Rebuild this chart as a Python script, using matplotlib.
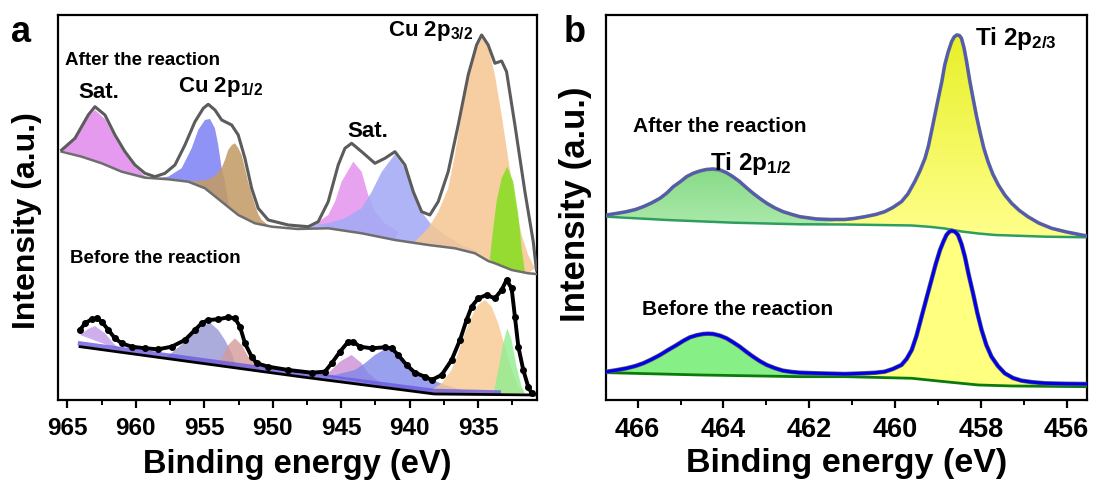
import numpy as np
import matplotlib
matplotlib.use("Agg")
import matplotlib.pyplot as plt
from matplotlib.ticker import MultipleLocator
from matplotlib.patches import Polygon

plt.rcParams['font.family'] = ['Liberation Sans', 'DejaVu Sans']
plt.rcParams['font.weight'] = 'bold'
plt.rcParams['axes.labelweight'] = 'bold'
plt.rcParams['mathtext.fontset'] = 'custom'
plt.rcParams['mathtext.default'] = 'bf'
plt.rcParams['mathtext.bf'] = 'Liberation Sans:bold'
plt.rcParams['mathtext.rm'] = 'Liberation Sans:bold'

# === Cu 2p, after the reaction ===
cu_env_after_e = [965.41, 964.44, 963.47, 962.98, 962.25, 961.52, 960.79, 960.06, 959.33, 958.6,
                  957.87, 957.14, 956.41, 955.68, 955.07, 954.71, 954.22, 953.73, 953.0, 952.52,
                  952.03, 951.54, 951.06, 950.33, 948.87, 947.41, 946.68, 945.95, 945.22, 944.73,
                  944.24, 943.51, 942.54, 941.81, 941.08, 940.35, 939.74, 939.13, 938.53, 937.92,
                  937.19, 936.46, 935.73, 935.12, 934.75, 934.27, 933.78, 933.29, 932.93, 932.32,
                  931.59, 930.98, 930.75]
cu_env_after_i = [250, 261.7, 285, 293.3, 285, 265, 248.3, 235, 226.7, 223.3,
                  226.7, 235, 255, 278.3, 291.7, 295.7, 290, 280, 275, 265,
                  241.7, 211.7, 191.7, 180, 175, 173.3, 178.3, 198.3, 235, 251.7,
                  256.7, 248.3, 236.7, 241.7, 248.3, 235, 208.3, 188.3, 185, 198.3,
                  228.3, 275, 325, 355, 365, 355, 336.7, 339, 328.3, 275,
                  208.3, 158.3, 130]
cu_bg_after_e = [965.41, 963.95, 962.49, 961.03, 959.33, 957.63, 956.17, 954.95, 953.73, 952.52,
                 951.3, 950.08, 948.2, 945.95, 943.51, 941.08, 938.65, 936.7, 935.24, 934.27,
                 933.78, 932.56, 931.35, 930.75]
cu_bg_after_i = [248.3, 243.3, 236.7, 228.3, 222.3, 220.7, 218.3, 211.7, 198.3, 185,
                 176.7, 173.3, 171, 171.7, 166.7, 160, 155, 151.7, 146.7, 139,
                 136.7, 130, 126.7, 126]

sat1_a_e = [965.41, 964.44, 963.47, 962.98, 962.25, 961.52, 960.79, 960.06, 959.33, 958.9]
sat1_a_i = [250, 260, 283, 290, 281, 262, 246, 233, 224, 222]
p12a_a_e = [958.6, 957.63, 956.65, 955.92, 955.44, 954.95, 954.58, 954.22, 953.98, 953.73, 953.49, 953.2]
p12a_a_i = [221.5, 223.3, 231.7, 251.7, 270, 280, 281, 271.7, 255, 231.7, 218, 195]
p12b_a_e = [956.2, 955.5, 954.8, 954.2, 953.73, 953.49, 953.25, 952.98, 952.76, 952.52,
            952.27, 952.03, 951.79, 951.54, 951.3, 951.06, 950.81, 950.3]
p12b_a_i = [218.3, 219, 220, 224, 232, 240, 250, 255, 256.7, 252,
            245, 232, 218, 206, 195, 186, 180, 174.5]
sat2_a_e = [946.92, 945.95, 945.46, 944.97, 944.12, 943.51, 943.03, 942.54, 941.81, 940.84]
sat2_a_i = [175.7, 185, 198, 218.3, 238.3, 228.3, 205, 188, 176.7, 168]
sat3_a_e = [948.38, 947.17, 945.95, 944.73, 943.51, 942.78, 942.05, 941.08, 940.35, 939.74,
            939.13, 938.4, 937.43, 936.21, 935.0]
sat3_a_i = [171.5, 175, 176.7, 181.7, 191.7, 208, 228, 245.7, 231.7, 208,
            188, 175, 165, 155, 148.3]
p32a_a_e = [939.62, 938.65, 937.92, 937.19, 936.7, 936.21, 935.73, 935.24, 934.75, 934.27,
            933.78, 933.29, 932.81, 932.32, 931.83, 931.35, 930.86]
p32a_a_i = [158.3, 171.7, 188, 211.7, 245, 285, 321.7, 348.3, 361.7, 353.3,
            325, 285, 241.7, 198.3, 165, 145, 131.7]
p32b_a_e = [934.15, 933.9, 933.66, 933.29, 932.88, 932.44, 932.07, 931.83, 931.59]
p32b_a_i = [141, 171.7, 198.3, 221.7, 233.3, 218.3, 185, 151.7, 128.3]

# === Cu 2p, before the reaction ===
cu_env_before_e = [964.07, 963.71, 963.22, 962.85, 962.49, 962.0, 961.52, 961.03, 960.3, 959.33,
                   958.36, 957.38, 956.41, 955.68, 955.19, 954.71, 953.98, 953.25, 952.76, 952.39,
                   952.03, 951.54, 951.18, 950.33, 948.87, 947.16, 946.19, 945.7, 945.09, 944.49,
                   944.12, 943.64, 942.78, 941.81, 941.32, 940.84, 940.23, 939.62, 938.89, 938.4,
                   937.67, 936.94, 936.33, 935.85, 935.48, 935.0, 934.39, 933.78, 933.29, 932.93,
                   932.56, 932.32, 932.07, 931.71, 931.35, 931.1]
cu_env_before_i = [70, 76.7, 80.7, 81.7, 78.3, 70, 61.7, 56.7, 53.3, 51.7,
                   50.7, 53.3, 60, 70, 76.7, 80, 80.7, 82.7, 81.7, 73.3,
                   56.7, 43.3, 36.7, 33.3, 30, 27.3, 28.3, 36.7, 48.3, 58.3,
                   58.3, 53.3, 51.7, 52.7, 51.7, 45, 35, 27.3, 23.3, 20,
                   25, 40, 60, 80, 93.3, 101.7, 105, 101.7, 110, 120,
                   111.7, 83.3, 53.3, 30, 13.3, 6.7]
cu_bg_before_e = [964.07, 948.0, 938.2, 930.9]
cu_bg_before_i = [53.3, 23.3, 6.0, 5.0]
cu_band_before_e = [964.07, 948.0, 938.2, 933.5]
cu_band_before_i = [56.5, 26.5, 9.0, 7.5]

sat1_b_e = [964.07, 963.47, 962.98, 962.25, 961.64, 961.03]
sat1_b_i = [65, 71, 74, 66.7, 56.7, 49.5]
p12a_b_e = [957.9, 957.38, 956.41, 955.68, 955.19, 954.58, 953.98, 953.49, 953.0, 952.64]
p12a_b_i = [42, 47, 58.3, 68.3, 73.3, 77.3, 70, 60, 46.7, 33]
p12b_b_e = [953.98, 953.73, 953.25, 952.76, 952.27, 951.79, 951.3, 950.9]
p12b_b_i = [36, 41.7, 55, 61.7, 55, 43.3, 36.7, 30]
sat2_b_e = [946.19, 945.7, 945.09, 944.24, 943.51, 943.03, 942.54, 942.0]
sat2_b_i = [24, 30, 38.3, 45, 36.7, 26.7, 21.7, 15]
sat3_b_e = [947.16, 945.46, 944.0, 943.27, 942.54, 941.69, 941.08, 940.35, 939.62, 938.65,
            937.43, 936.2, 935.2]
sat3_b_i = [26, 25, 30, 36.7, 45, 51.7, 48.3, 36.7, 28.3, 21.7,
            15, 10, 7]
p32a_b_e = [938.4, 937.67, 936.94, 936.46, 935.97, 935.48, 935.0, 934.51, 934.02, 933.54,
            933.05, 932.56, 932.07, 931.59]
p32a_b_i = [10, 16.7, 30, 46.7, 66.7, 83.3, 95, 100, 93.3, 76.7,
            53.3, 30, 13.3, 6.7]
p32b_b_e = [933.9, 933.78, 933.54, 933.17, 932.88, 932.56, 932.2, 931.83, 931.59]
p32b_b_i = [6.7, 13.3, 30, 56.7, 71.7, 60, 33.3, 13.3, 6.7]

# === Ti 2p ===
ti_env_after_e = [466.72, 466.5, 466.26, 466.05, 465.87, 465.68, 465.48, 465.32, 465.17, 465.0,
                  464.86, 464.7, 464.55, 464.4, 464.24, 464.08, 463.93, 463.78, 463.62, 463.47,
                  463.31, 463.15, 462.99, 462.8, 462.61, 462.4, 462.22, 462.0, 461.83, 461.5,
                  461.17, 460.95, 460.7, 460.45, 460.24, 460.05, 459.85, 459.7, 459.54, 459.42,
                  459.3, 459.22, 459.15, 459.07, 458.99, 458.91, 458.84, 458.76, 458.68, 458.62,
                  458.56, 458.5, 458.45, 458.39, 458.33, 458.26, 458.18, 458.1, 458.02, 457.93,
                  457.83, 457.72, 457.59, 457.44, 457.28, 457.1, 456.9, 456.65, 456.35, 456.0,
                  455.53]
ti_env_after_i = [185, 186.5, 188.3, 190.5, 193.3, 197, 201.7, 207, 213.3, 218.5,
                  223.3, 226.8, 229, 230.5, 231, 230, 227.3, 223.3, 218.3, 212.5,
                  206.7, 201.5, 196.7, 192, 188.3, 185.5, 183.3, 182, 181, 180.5,
                  180.5, 181.5, 183.3, 185.5, 188.3, 192.5, 198.3, 206, 218.3, 229,
                  241.7, 254, 268.3, 285, 301.7, 318, 335, 348, 358.3, 363,
                  365, 364.5, 361.7, 352, 338.3, 320, 301.7, 284, 268.3, 252,
                  238.3, 226, 215, 205, 196.7, 189.5, 183.3, 177, 171.7, 168,
                  164]
ti_bg_after_e = [466.72, 465.32, 463.77, 462.22, 461.17, 459.61, 459.15, 458.84, 458.45, 458.06,
                 457.67, 456.5, 455.53]
ti_bg_after_i = [183.3, 180, 177.3, 175.7, 175.5, 174.5, 173, 171.5, 168.5, 166.5,
                 165, 163.3, 162.7]

ti_env_before_e = [466.72, 466.5, 466.26, 466.05, 465.87, 465.68, 465.48, 465.29, 465.09, 464.93,
                   464.78, 464.62, 464.47, 464.35, 464.24, 464.08, 463.93, 463.78, 463.62, 463.47,
                   463.31, 463.15, 462.99, 462.8, 462.61, 462.4, 462.22, 461.83, 461.17, 460.7,
                   460.45, 460.24, 460.05, 459.85, 459.73, 459.61, 459.5, 459.38, 459.27, 459.15,
                   459.05, 458.95, 458.87, 458.8, 458.74, 458.68, 458.6, 458.53, 458.45, 458.37,
                   458.28, 458.18, 458.08, 457.98, 457.87, 457.75, 457.6, 457.44, 457.25, 457.05,
                   456.8, 456.5, 456.0, 455.53]
ti_env_before_i = [28.3, 29.8, 31.7, 34, 36.7, 40.5, 45, 50, 55, 59.3,
                   62.7, 64.8, 66, 66.3, 66, 64.3, 61.7, 57.8, 53.3, 48.3,
                   43.3, 38.8, 35, 31.8, 29.3, 28, 27.3, 26.7, 26, 26.7,
                   27.3, 28.3, 31, 35, 41, 50, 64, 83.3, 101, 120,
                   136, 150, 158.5, 165, 168, 169.3, 168.3, 165, 156, 143.3,
                   125, 106.7, 87, 70, 55, 43.3, 34, 26.7, 22, 19.3,
                   17.8, 16.7, 16.2, 16]
ti_bg_before_e = [466.72, 464.55, 462.22, 461.17, 459.61, 458.84, 458.06, 457.28, 455.53]
ti_bg_before_i = [27.3, 25, 23.3, 23.3, 21.7, 18.3, 15, 14, 13.3]

# split point between the Ti 2p1/2 and Ti 2p3/2 fills (eV)
ti_split = 461.5


def comp_poly(ce, ci, be, bi):
    # component curve, closed along the background points under it
    lo, hi = min(ce), max(ce)
    pts = list(zip(ce, ci))
    under = [(e, i) for e, i in zip(be, bi) if lo < e < hi]
    under.sort(key=lambda p: p[0], reverse=(ce[0] < ce[-1]))
    return np.array(pts + under)


def fill_comp(ax, ce, ci, be, bi, color, alpha=0.9, z=2):
    ax.add_patch(Polygon(comp_poly(ce, ci, be, bi), closed=True, facecolor=color,
                         edgecolor='none', alpha=alpha, zorder=z))


def grad_comp(ax, ce, ci, be, bi, top, bottom, z=2):
    poly = Polygon(comp_poly(ce, ci, be, bi), closed=True, facecolor='none', edgecolor='none')
    ax.add_patch(poly)
    t = np.array(top) / 255.0
    b = np.array(bottom) / 255.0
    f = np.linspace(0, 1, 256)[:, None]
    img = (t * (1 - f) + b * f)[:, None, :].repeat(2, axis=1)
    y0, y1 = min(min(ci), min(bi)), max(ci)
    im = ax.imshow(img, extent=[max(ce), min(ce), y0, y1], aspect='auto',
                   origin='upper', zorder=z, interpolation='bilinear')
    im.set_clip_path(poly)


def split_env(e, i, bg_e, bg_i):
    # left (higher eV) and right (lower eV) part of one envelope, closed onto the background
    bl = min(bg_i[k] for k in range(len(bg_e)) if bg_e[k] > ti_split - 0.8)
    le = [x for x in e if x >= ti_split]
    li = [y for x, y in zip(e, i) if x >= ti_split]
    re_ = [x for x in e if x < ti_split]
    ri = [y for x, y in zip(e, i) if x < ti_split]
    return (le + [ti_split - 0.2], li + [bl]), ([ti_split + 0.3] + re_, [bl] + ri)


fig = plt.figure(figsize=(10.95, 4.84), dpi=100)
ax1 = fig.add_axes([0.0532, 0.1736, 0.4368, 0.7944])
ax2 = fig.add_axes([0.5534, 0.1736, 0.4390, 0.7944])

# --- panel a ---
for ce, ci, col in [(sat1_a_e, sat1_a_i, '#e38ced'), (p12a_a_e, p12a_a_i, '#7e84f4'),
                    (p12b_a_e, p12b_a_i, '#c39c66'), (sat2_a_e, sat2_a_i, '#e596ee'),
                    (sat3_a_e, sat3_a_i, '#a3aaf5'), (p32a_a_e, p32a_a_i, '#f5c894'),
                    (p32b_a_e, p32b_a_i, '#88dd22')]:
    fill_comp(ax1, ce, ci, cu_bg_after_e, cu_bg_after_i, col, alpha=0.88)
ax1.plot(cu_bg_after_e, cu_bg_after_i, color='#6e6e6e', lw=1.8, zorder=4)
ax1.plot(cu_env_after_e, cu_env_after_i, color='#5a1020', lw=1.0, zorder=4)
ax1.plot(cu_env_after_e, cu_env_after_i, color='#5c5c5c', lw=2.2, zorder=5)

for ce, ci, col in [(sat1_b_e, sat1_b_i, '#c49ae8'), (p12a_b_e, p12a_b_i, '#9696d4'),
                    (p12b_b_e, p12b_b_i, '#d49a9a'), (sat2_b_e, sat2_b_i, '#cc8fd6'),
                    (sat3_b_e, sat3_b_i, '#8088ea'), (p32a_b_e, p32a_b_i, '#f8c890'),
                    (p32b_b_e, p32b_b_i, '#90ee90')]:
    fill_comp(ax1, ce, ci, cu_bg_before_e, cu_bg_before_i, col, alpha=0.8)
ax1.plot(cu_band_before_e, cu_band_before_i, color='#6a5ae0', lw=3.2, alpha=0.8, zorder=4)
ax1.plot(cu_bg_before_e, cu_bg_before_i, color='black', lw=2.0, zorder=4)
ax1.plot(cu_env_before_e, cu_env_before_i, color='black', lw=2.8, marker='o', ms=4, zorder=5)

ax1.set_xlim(965.66, 930.74)
ax1.set_ylim(0, 384.5)
ax1.xaxis.set_major_locator(MultipleLocator(5))
ax1.xaxis.set_minor_locator(MultipleLocator(2.5))

tk = dict(fontweight='bold', color='black')
ax1.text(965.17, 335, 'After the reaction', fontsize=13.5, ha='left', va='baseline', **tk)
ax1.text(962.69, 302, 'Sat.', fontsize=16, ha='center', va='baseline', **tk)
ax1.text(956.92, 308, r'Cu 2p$_{1/2}$', fontsize=16, ha='left', va='baseline', **tk)
ax1.text(943.08, 263, 'Sat.', fontsize=16, ha='center', va='baseline', **tk)
ax1.text(941.59, 364, r'Cu 2p$_{3/2}$', fontsize=16, ha='left', va='baseline', **tk)
ax1.text(964.8, 137, 'Before the reaction', fontsize=13.5, ha='left', va='baseline', **tk)

# --- panel b ---
(l_e, l_i), (r_e, r_i) = split_env(ti_env_after_e, ti_env_after_i, ti_bg_after_e, ti_bg_after_i)
grad_comp(ax2, l_e, l_i, ti_bg_after_e, ti_bg_after_i, (135, 218, 135), (178, 236, 178))
grad_comp(ax2, r_e, r_i, ti_bg_after_e, ti_bg_after_i, (232, 240, 40), (255, 255, 140))
ax2.plot(ti_bg_after_e, ti_bg_after_i, color='#2e9e5e', lw=1.8, zorder=4)
ax2.plot(ti_env_after_e, ti_env_after_i, color='#707070', lw=2.6, zorder=5)
ax2.plot(ti_env_after_e, ti_env_after_i, color='#4a58c8', lw=1.8, alpha=0.85, zorder=6)

(l_e, l_i), (r_e, r_i) = split_env(ti_env_before_e, ti_env_before_i, ti_bg_before_e, ti_bg_before_i)
fill_comp(ax2, l_e, l_i, ti_bg_before_e, ti_bg_before_i, '#86ef86', alpha=1)
fill_comp(ax2, r_e, r_i, ti_bg_before_e, ti_bg_before_i, '#ffff80', alpha=1)
ax2.plot(ti_bg_before_e, ti_bg_before_i, color='#0a7a0a', lw=2.0, zorder=4)
ax2.plot(ti_env_before_e, ti_env_before_i, color='#606060', lw=3.2, zorder=5)
ax2.plot(ti_env_before_e, ti_env_before_i, color='#0000ee', lw=2.2, zorder=6)

ax2.set_xlim(466.74, 455.53)
ax2.set_ylim(0, 384.5)
ax2.xaxis.set_major_locator(MultipleLocator(2))
ax2.xaxis.set_minor_locator(MultipleLocator(1))

ax2.text(466.11, 268, 'After the reaction', fontsize=15, ha='left', va='baseline', **tk)
ax2.text(464.31, 230, r'Ti 2p$_{1/2}$', fontsize=17.5, ha='left', va='baseline', zorder=7, **tk)
ax2.text(458.14, 355, r'Ti 2p$_{2/3}$', fontsize=17.5, ha='left', va='baseline', **tk)
ax2.text(465.9, 85, 'Before the reaction', fontsize=15, ha='left', va='baseline', **tk)

for ax, tfs, lfs, yfs, lp in [(ax1, 17.5, 23.5, 23, 6), (ax2, 19.5, 24.5, 25, 3)]:
    ax.set_yticks([])
    ax.tick_params(axis='x', which='major', direction='out', length=6, width=1.6,
                   labelsize=tfs, pad=6.5)
    ax.tick_params(axis='x', which='minor', direction='out', length=3.5, width=1.4)
    for s in ax.spines.values():
        s.set_linewidth(1.6)
    ax.set_xlabel('Binding energy (eV)', fontsize=lfs, labelpad=lp)
    ax.set_ylabel('Intensity (a.u.)', fontsize=yfs)

ax1.yaxis.set_label_coords(-0.034, 0.466)
ax2.yaxis.set_label_coords(-0.029, 0.508)

fig.text(0.0096, 0.913, 'a', fontsize=26, fontweight='bold', ha='left', va='baseline')
fig.text(0.515, 0.913, 'b', fontsize=26, fontweight='bold', ha='left', va='baseline')

fig.savefig('out.png', dpi=100)
